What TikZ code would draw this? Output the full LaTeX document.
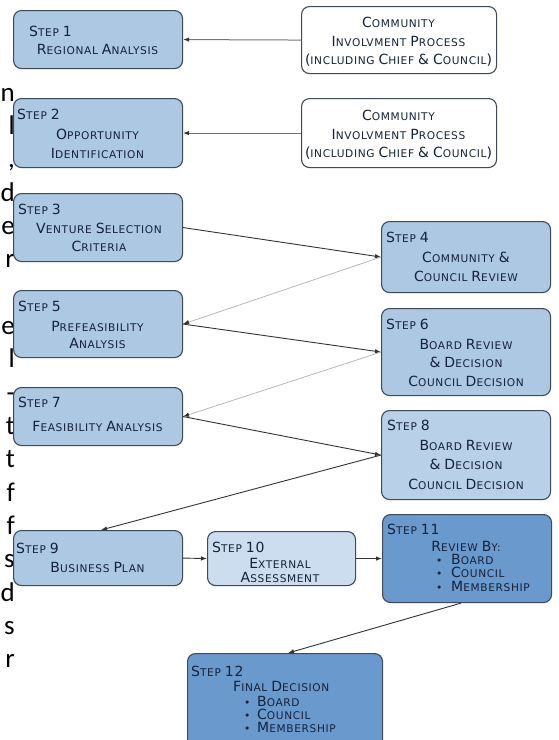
\documentclass[tikz,border=0pt]{standalone}
\usepackage{fontspec}
\usetikzlibrary{arrows.meta}
\newfontfamily\dvs[LetterSpace=6]{DejaVu Sans}
\newfontfamily\edgefont{Carlito}
\newcommand\B[1]{{\fontsize{14}{16}\selectfont #1}}
\definecolor{stepc}{HTML}{ADC8E3}
\definecolor{stepbc}{HTML}{B8D0E8}
\definecolor{steplc}{HTML}{CCDDEF}
\definecolor{darkc}{HTML}{6A9ACD}
\definecolor{bordc}{HTML}{3E4A58}
\definecolor{txtc}{HTML}{15223C}
\tikzset{
  box/.style={draw=bordc, line width=1.1pt, rounded corners=8pt, fill=#1, anchor=north west, inner sep=0pt},
  box/.default=stepc,
  lbl/.style={font=\dvs\fontsize{10.6}{12}\selectfont, text=txtc, inner sep=0pt, anchor=base},
  hd/.style={lbl, anchor=base west},
  dk/.style={draw=black!80, line width=0.9pt, -{Latex[length=6pt,width=4.5pt]}},
  lt/.style={draw=black!30, line width=0.7pt, -{Latex[length=6pt,width=4.5pt,color=black!80]}},
  gy/.style={draw=black!55, line width=1pt, -{Latex[length=6pt,width=4.5pt,color=black!80]}},
  edge/.style={font=\edgefont\fontsize{27}{29}\selectfont, inner sep=0pt, anchor=base east}
}
\begin{document}
\begin{tikzpicture}[x=1pt,y=-1pt]
\useasboundingbox (0,0) rectangle (559,740);
\fill[white] (0,0) rectangle (559,740);
% edge letters from neighbouring text
\foreach \c/\k [count=\i] in {n/0,l/1,{,}/2,d/3,e/4,r/5,e/7,l/8,-/9,t/10,t/11,f/12,f/13,s/14,d/15,s/16,r/17}
  \node[edge] (e\i) at (15,{101+33.35*\k}) {\c};
% boxes
\node[box, minimum width=169pt, minimum height=58pt] (s1) at (13,10) {};
\node[box, minimum width=169pt, minimum height=69pt] (s2) at (13,98) {};
\node[box, minimum width=169pt, minimum height=68pt] (s3) at (13,193) {};
\node[box, minimum width=169pt, minimum height=67pt] (s5) at (13,290) {};
\node[box, minimum width=169pt, minimum height=58pt] (s7) at (13,387) {};
\node[box, minimum width=169pt, minimum height=55pt] (s9) at (13,530) {};
\node[box=white, minimum width=195pt, minimum height=67pt] (c1) at (301,6) {};
\node[box=white, minimum width=195pt, minimum height=69pt] (c2) at (301,98) {};
\node[box, minimum width=169pt, minimum height=71pt] (s4) at (381,221) {};
\node[box, minimum width=169pt, minimum height=87pt] (s6) at (381,308) {};
\node[box=stepbc, minimum width=169pt, minimum height=89pt] (s8) at (381,410) {};
\node[box=steplc, minimum width=148pt, minimum height=54pt] (s10) at (207,531) {};
\node[box=darkc, minimum width=169pt, minimum height=88pt] (s11) at (382,514) {};
\node[box=darkc, minimum width=195pt, minimum height=110pt] (s12) at (187,653) {};
% connectors
\draw[gy] (c1.west) -- (s1.east);
\draw[gy] (c2.west) -- (s2.east);
\draw[dk] (s3.east) -- (s4.west);
\draw[lt] (s4.west) -- (s5.east);
\draw[dk] (s5.east) -- (s6.west);
\draw[lt] (s6.west) -- (s7.east);
\draw[dk] (s7.east) -- (s8.west);
\draw[dk] (s8.west) -- ([xshift=3pt]s9.north);
\draw[dk] (s9.east) -- (s10.west);
\draw[dk] (s10.east) -- (s11.west);
\draw[dk] ([xshift=-6pt]s11.south) -- ([xshift=3pt]s12.north);
% texts
\node[hd] (s1h) at (29,36) {\B{S}TEP \B{1}};
\node[lbl] (s1a) at (97.5,54) {\B{R}EGIONAL \B{A}NALYSIS};
\node[hd] (s2h) at (17,119) {\B{S}TEP \B{2}};
\node[lbl] (s2a) at (97.5,139) {\B{O}PPORTUNITY};
\node[lbl] (s2b) at (97.5,158) {\B{I}DENTIFICATION};
\node[hd] (s3h) at (18,214) {\B{S}TEP \B{3}};
\node[lbl] (s3a) at (99,233) {\B{V}ENTURE \B{S}ELECTION};
\node[lbl] (s3b) at (99,251) {\B{C}RITERIA};
\node[hd] (s5h) at (18,311) {\B{S}TEP \B{5}};
\node[lbl] (s5a) at (97.5,331) {\B{P}REFEASIBILITY};
\node[lbl] (s5b) at (97.5,348) {\B{A}NALYSIS};
\node[hd] (s7h) at (18,407) {\B{S}TEP \B{7}};
\node[lbl] (s7a) at (97.5,431) {\B{F}EASIBILITY \B{A}NALYSIS};
\node[hd] (s9h) at (16,553) {\B{S}TEP \B{9}};
\node[lbl] (s9a) at (97.5,572) {\B{B}USINESS \B{P}LAN};
\node[lbl] (c1a) at (398.5,27) {\B{C}OMMUNITY};
\node[lbl] (c1b) at (398.5,46) {\B{I}NVOLVMENT \B{P}ROCESS};
\node[lbl] (c1c) at (398.5,64) {\B{(}INCLUDING \B{C}HIEF \B{\&} \B{C}OUNCIL\B{)}};
\node[lbl] (c2a) at (398.5,120) {\B{C}OMMUNITY};
\node[lbl] (c2b) at (398.5,139) {\B{I}NVOLVMENT \B{P}ROCESS};
\node[lbl] (c2c) at (398.5,157) {\B{(}INCLUDING \B{C}HIEF \B{\&} \B{C}OUNCIL\B{)}};
\node[hd] (s4h) at (386,242) {\B{S}TEP \B{4}};
\node[lbl] (s4a) at (466,262) {\B{C}OMMUNITY \B{\&}};
\node[lbl] (s4b) at (466,281) {\B{C}OUNCIL \B{R}EVIEW};
\node[hd] (s6h) at (386,329) {\B{S}TEP \B{6}};
\node[lbl] (s6a) at (466,349) {\B{B}OARD \B{R}EVIEW};
\node[lbl] (s6b) at (466,367) {\B{\&} \B{D}ECISION};
\node[lbl] (s6c) at (466,386) {\B{C}OUNCIL \B{D}ECISION};
\node[hd] (s8h) at (387,430) {\B{S}TEP \B{8}};
\node[lbl] (s8a) at (466,450) {\B{B}OARD \B{R}EVIEW};
\node[lbl] (s8b) at (466,469) {\B{\&} \B{D}ECISION};
\node[lbl] (s8c) at (466,489) {\B{C}OUNCIL \B{D}ECISION};
\node[hd] (s10h) at (212,552) {\B{S}TEP \B{10}};
\node[lbl] (s10a) at (280,568) {\B{E}XTERNAL};
\node[lbl] (s10b) at (280,582) {\B{A}SSESSMENT};
\node[hd] (s11h) at (387,534) {\B{S}TEP \B{11}};
\node[lbl] (s11a) at (466,551) {\B{R}EVIEW \B{B}Y:};
\node[hd] (s11d1) at (436,564) {•};
\node[hd] (s11w1) at (451,564) {\B{B}OARD};
\node[hd] (s11d2) at (436,577) {•};
\node[hd] (s11w2) at (451,577) {\B{C}OUNCIL};
\node[hd] (s11d3) at (436,591) {•};
\node[hd] (s11w3) at (451,591) {\B{M}EMBERSHIP};
\node[hd] (s12h) at (191,676) {\B{S}TEP \B{12}};
\node[hd] (s12a) at (233,691) {\B{F}INAL \B{D}ECISION};
\node[hd] (s12d1) at (244,706) {•};
\node[hd] (s12w1) at (257,706) {\B{B}OARD};
\node[hd] (s12d2) at (244,719) {•};
\node[hd] (s12w2) at (257,719) {\B{C}OUNCIL};
\node[hd] (s12d3) at (244,732) {•};
\node[hd] (s12w3) at (257,732) {\B{M}EMBERSHIP};
\end{tikzpicture}
\end{document}
